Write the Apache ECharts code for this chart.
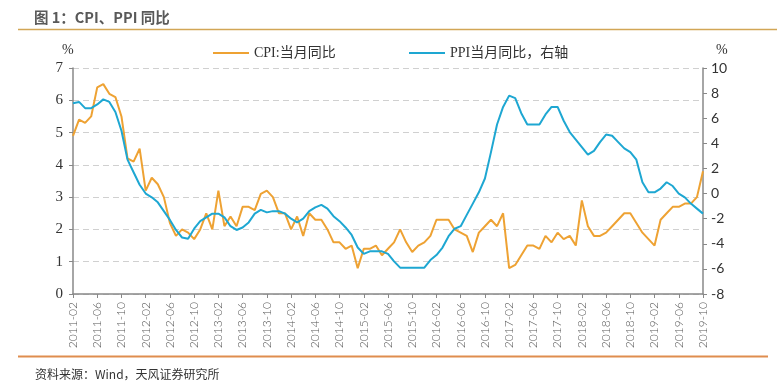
<!DOCTYPE html>
<html><head><meta charset="utf-8">
<script src="https://cdn.jsdelivr.net/npm/echarts@6/dist/echarts.min.js"></script>
<style>html,body{margin:0;padding:0;background:#fff}#c{width:777px;height:383px}</style>
</head><body><div id="c"></div>
<script>
// Months 2011-02 .. 2019-10
const categories = [];
for (let y = 2011; y <= 2019; y++) {
  for (let m = 1; m <= 12; m++) {
    if (y === 2011 && m < 2) continue;
    if (y === 2019 && m > 10) continue;
    categories.push(y + '-' + (m < 10 ? '0' + m : m));
  }
}
const cpi = [
  4.9,5.4,5.3,5.5,6.4,6.5,6.2,6.1,5.5,4.2,4.1,
  4.5,3.2,3.6,3.4,3.0,2.2,1.8,2.0,1.9,1.7,2.0,2.5,
  2.0,3.2,2.1,2.4,2.1,2.7,2.7,2.6,3.1,3.2,3.0,2.5,
  2.5,2.0,2.4,1.8,2.5,2.3,2.3,2.0,1.6,1.6,1.4,1.5,
  0.8,1.4,1.4,1.5,1.2,1.4,1.6,2.0,1.6,1.3,1.5,1.6,
  1.8,2.3,2.3,2.3,2.0,1.9,1.8,1.3,1.9,2.1,2.3,2.1,
  2.5,0.8,0.9,1.2,1.5,1.5,1.4,1.8,1.6,1.9,1.7,1.8,
  1.5,2.9,2.1,1.8,1.8,1.9,2.1,2.3,2.5,2.5,2.2,1.9,
  1.7,1.5,2.3,2.5,2.7,2.7,2.8,2.8,3.0,3.8
];
const ppi = [
  7.2,7.3,6.8,6.8,7.1,7.5,7.3,6.5,5.0,2.7,1.7,
  0.7,0.0,-0.3,-0.7,-1.4,-2.1,-2.9,-3.5,-3.6,-2.8,-2.2,-1.9,
  -1.6,-1.6,-1.9,-2.6,-2.9,-2.7,-2.3,-1.6,-1.3,-1.5,-1.4,-1.4,
  -1.6,-2.0,-2.3,-2.0,-1.4,-1.1,-0.9,-1.2,-1.8,-2.2,-2.7,-3.3,
  -4.3,-4.8,-4.6,-4.6,-4.6,-4.8,-5.4,-5.9,-5.9,-5.9,-5.9,-5.9,
  -5.3,-4.9,-4.3,-3.4,-2.8,-2.6,-1.7,-0.8,0.1,1.2,3.3,5.5,
  6.9,7.8,7.6,6.4,5.5,5.5,5.5,6.3,6.9,6.9,5.8,4.9,
  4.3,3.7,3.1,3.4,4.1,4.7,4.6,4.1,3.6,3.3,2.7,0.9,
  0.1,0.1,0.4,0.9,0.6,0.0,-0.3,-0.8,-1.2,-1.6
];
const leftTicks = {min: 0, max: 7, interval: 1};
const rightTicks = {min: -8, max: 10, interval: 2};

const chart = echarts.init(document.getElementById('c'));
const serif = "'Liberation Serif','Noto Sans CJK SC',serif";
const sans = "Lato,'Noto Sans',sans-serif";
chart.setOption({
  animation: false,
  backgroundColor: '#fff',
  title: [{
    text: '图 1：CPI、PPI 同比', left: 29, top: 5,
    textStyle: {fontSize: 14.5, fontWeight: 'bold', color: '#595959', fontFamily: "'Noto Sans CJK SC',sans-serif"}
  }, {
    text: '资料来源：Wind，天风证券研究所', left: 30, top: 363,
    textStyle: {fontSize: 12, fontWeight: 'normal', color: '#333', fontFamily: "'Noto Sans CJK SC',sans-serif"}
  }],
  graphic: [
    {type: 'line', shape: {x1: 18, y1: 29.5, x2: 777, y2: 29.5}, style: {stroke: '#d2a656', lineWidth: 1.5}},
    {type: 'line', shape: {x1: 18, y1: 356.5, x2: 768, y2: 356.5}, style: {stroke: '#df8d4f', lineWidth: 2}},
    {type: 'text', left: 62, top: 43, style: {text: '%', font: "14px 'Liberation Serif'", fill: '#333'}},
    {type: 'text', left: 716, top: 43, style: {text: '%', font: "14px 'Liberation Serif'", fill: '#333'}}
  ],
  legend: [{
    data: ['CPI:当月同比'], left: 208, top: 41, itemWidth: 36, itemHeight: 2,
    icon: 'rect', textStyle: {fontSize: 14, color: '#333', fontFamily: serif}
  }, {
    data: ['PPI当月同比，右轴'], left: 404, top: 41, itemWidth: 36, itemHeight: 2,
    icon: 'rect', textStyle: {fontSize: 14, color: '#333', fontFamily: serif}
  }],
  grid: {left: 73, right: 74, top: 68, bottom: 89, containLabel: false},
  xAxis: {
    type: 'category', data: categories, boundaryGap: false,
    axisLine: {lineStyle: {color: '#888', width: 1.5}},
    axisTick: {interval: 3, length: 4, lineStyle: {color: '#888'}},
    axisLabel: {interval: 3, rotate: 90, fontSize: 12, color: '#555', fontWeight: 300, fontFamily: sans, margin: 8}
  },
  yAxis: [{
    type: 'value', min: leftTicks.min, max: leftTicks.max, interval: leftTicks.interval,
    axisLine: {show: true, lineStyle: {color: '#888', width: 1.5}},
    axisTick: {show: true, length: 4, lineStyle: {color: '#888'}},
    axisLabel: {fontSize: 15, color: '#333', fontFamily: serif, margin: 10},
    splitLine: {show: true, lineStyle: {color: '#d0d0d0', type: [6, 4]}}
  }, {
    type: 'value', min: rightTicks.min, max: rightTicks.max, interval: rightTicks.interval,
    axisLine: {show: true, lineStyle: {color: '#888', width: 1.5}},
    axisTick: {show: true, length: 4, lineStyle: {color: '#888'}},
    axisLabel: {fontSize: 14, color: '#333', fontFamily: sans, margin: 8},
    splitLine: {show: false}
  }],
  series: [{
    name: 'CPI:当月同比', type: 'line', data: cpi, yAxisIndex: 0, symbol: 'none',
    lineStyle: {color: '#eea233', width: 2}, itemStyle: {color: '#eea233'}
  }, {
    name: 'PPI当月同比，右轴', type: 'line', data: ppi, yAxisIndex: 1, symbol: 'none',
    lineStyle: {color: '#1ea7d2', width: 2}, itemStyle: {color: '#1ea7d2'}
  }]
});
</script></body></html>
